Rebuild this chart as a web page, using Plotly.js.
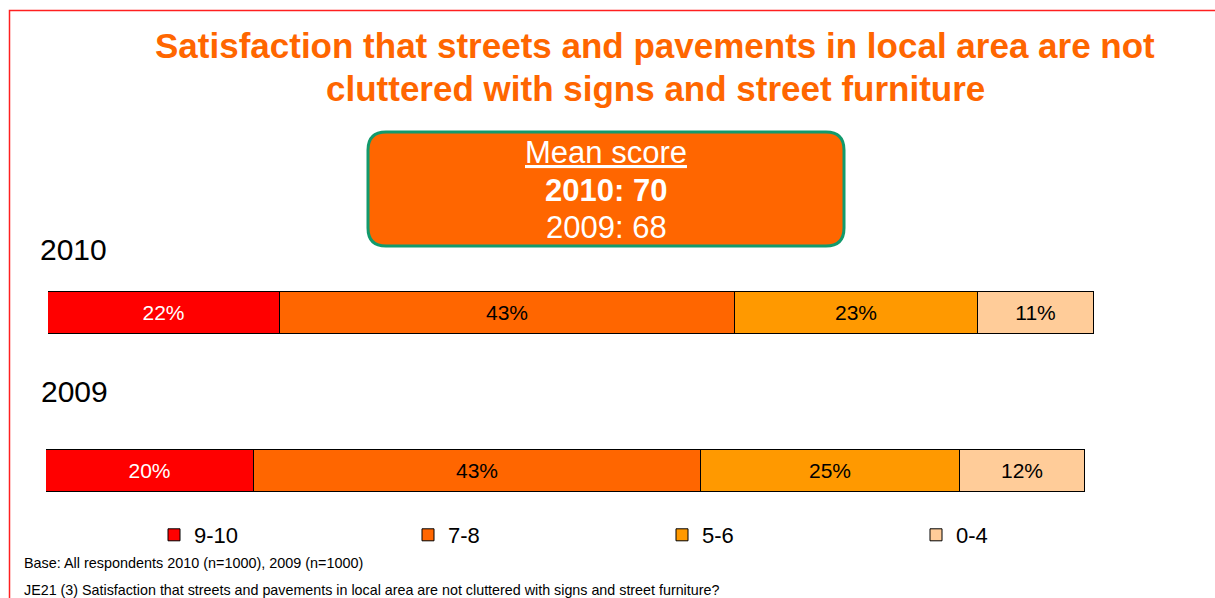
<!DOCTYPE html>
<html>
<head>
<meta charset="utf-8">
<script src="https://cdn.plot.ly/plotly-3.0.1.min.js"></script>
<style>
  html, body { margin: 0; padding: 0; background: #fff; }
  #chart { width: 1215px; height: 598px; }
</style>
</head>
<body>
<div id="chart"></div>
<script>
// data
const years = ["2010", "2009"];
const bands = ["9-10", "7-8", "5-6", "0-4"];
const pct2010 = [22, 43, 23, 11];
const pct2009 = [20, 43, 25, 12];
const meanScores = { "2010": 70, "2009": 68 };

const bandColors = ["#FF0000", "#FF6600", "#FF9900", "#FFCC99"];
const labelColors = ["#FFFFFF", "#000000", "#000000", "#000000"];

const W = 1215, H = 598;
const FONT = "Liberation Sans, Arial, sans-serif";
// pixel -> paper helpers
const px = v => v / W;
const py = v => 1 - v / H;

const sum = a => a.reduce((s, v) => s + v, 0);
const rows = [
  { year: years[0], vals: pct2010, xa: "x", ya: "y" },
  { year: years[1], vals: pct2009, xa: "x2", ya: "y2" }
];

let traces = [];
rows.forEach((r, i) => {
  bands.forEach((b, j) => {
    traces.push({
      type: "bar",
      orientation: "h",
      x: [r.vals[j]],
      y: [r.year],
      xaxis: r.xa,
      yaxis: r.ya,
      name: b,
      legendgroup: b,
      showlegend: i === 0,
      marker: { color: bandColors[j], line: { color: "#000", width: 1 } },
      text: [r.vals[j] + "%"],
      textposition: "inside",
      insidetextanchor: "middle",
      constraintext: "none",
      textangle: 0,
      textfont: { family: FONT, size: 21, color: labelColors[j] },
      hoverinfo: "skip"
    });
  });
});

// rounded box behind the mean score
function roundRect(x0, y0, x1, y1, r) {
  const rx = r / W, ry = r / H;
  const X0 = px(x0), X1 = px(x1), Y0 = py(y0), Y1 = py(y1);
  return "M" + (X0 + rx) + "," + Y0 +
    " L" + (X1 - rx) + "," + Y0 +
    " Q" + X1 + "," + Y0 + " " + X1 + "," + (Y0 - ry) +
    " L" + X1 + "," + (Y1 + ry) +
    " Q" + X1 + "," + Y1 + " " + (X1 - rx) + "," + Y1 +
    " L" + (X0 + rx) + "," + Y1 +
    " Q" + X0 + "," + Y1 + " " + X0 + "," + (Y1 + ry) +
    " L" + X0 + "," + (Y0 - ry) +
    " Q" + X0 + "," + Y0 + " " + (X0 + rx) + "," + Y0 + " Z";
}

function note(x, y, text, size, color, anchor, bold) {
  return { xref: "paper", yref: "paper", x: px(x), y: py(y), xanchor: anchor || "left", yanchor: "middle",
    showarrow: false, text: bold ? "<b>" + text + "</b>" : text,
    font: { family: FONT, size: size, color: color } };
}

const hiddenAxis = { visible: false, showgrid: false, zeroline: false, fixedrange: true };
// a little room above/below each bar so its outline is not clipped
const pad = 0.5 * 46 / 42;

const layout = {
  width: W,
  height: H,
  margin: { l: 0, r: 0, t: 0, b: 0 },
  paper_bgcolor: "#fff",
  plot_bgcolor: "rgba(0,0,0,0)",
  barmode: "stack",
  bargap: 0,
  showlegend: true,
  font: { family: FONT, color: "#000" },
  xaxis: Object.assign({}, hiddenAxis, { domain: [px(48), px(1094)], range: [0, sum(pct2010)], anchor: "y" }),
  yaxis: Object.assign({}, hiddenAxis, { type: "category", domain: [py(336), py(290)], range: [-pad, pad], anchor: "x" }),
  xaxis2: Object.assign({}, hiddenAxis, { domain: [px(46), px(1085)], range: [0, sum(pct2009)], anchor: "y2" }),
  yaxis2: Object.assign({}, hiddenAxis, { type: "category", domain: [py(494), py(448)], range: [-pad, pad], anchor: "x2" }),
  legend: {
    orientation: "h",
    traceorder: "normal",
    x: px(154), xanchor: "left",
    y: py(535), yanchor: "middle",
    entrywidth: 209, entrywidthmode: "pixels",
    font: { family: FONT, size: 22, color: "#000" },
    bgcolor: "rgba(0,0,0,0)"
  },
  shapes: [
    // red frame, top and left
    { type: "path", xref: "paper", yref: "paper",
      path: "M" + px(9.5) + ",0 L" + px(9.5) + "," + py(10.5) + " L1," + py(10.5),
      line: { color: "#FF2020", width: 1.5 } },
    { type: "path", xref: "paper", yref: "paper",
      path: roundRect(368, 132, 844, 246, 18),
      fillcolor: "#FF6600",
      line: { color: "#129A6C", width: 3 } }
  ],
  annotations: [
    note(655, 45, "Satisfaction that streets and pavements in local area are not", 35, "#FF6600", "center", true),
    note(655, 88, "cluttered with signs and street furniture", 35, "#FF6600", "center", true),
    note(606, 152, "<u>Mean score</u>", 31, "#FFFFFF", "center"),
    note(606, 190, years[0] + ": " + meanScores[years[0]], 31, "#FFFFFF", "center", true),
    note(606, 228, years[1] + ": " + meanScores[years[1]], 31, "#FFFFFF", "center"),
    note(38, 250, years[0], 30, "#000", "left"),
    note(39, 391, years[1], 30, "#000", "left"),
    note(22, 563, "Base: All respondents 2010 (n=1000), 2009 (n=1000)", 14.4, "#000", "left"),
    note(22, 590, "JE21 (3) Satisfaction that streets and pavements in local area are not cluttered with signs and street furniture?", 14.3, "#000", "left")
  ]
};

Plotly.newPlot("chart", traces, layout, { displayModeBar: false, responsive: false });
</script>
</body>
</html>
